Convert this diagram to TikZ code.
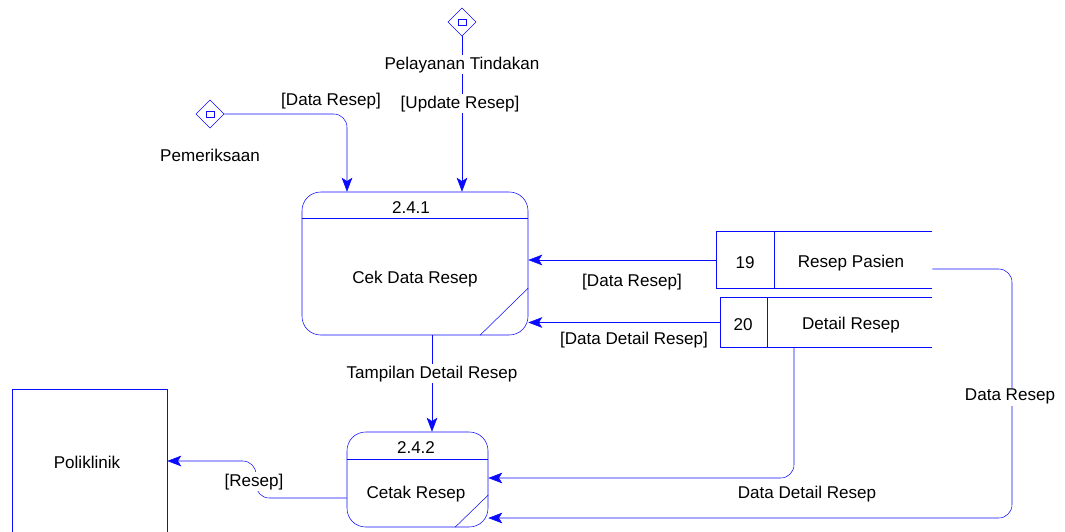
\documentclass[tikz,border=0pt]{standalone}
\usepackage{fontspec}
\setmainfont{Liberation Sans}
\usepackage{tikz}
\usetikzlibrary{shapes.geometric,arrows.meta}
\definecolor{dfdblue}{RGB}{10,10,255}
\tikzset{x=0.75pt,y=-0.75pt,line width=0.9pt,
  every node/.style={font=\fontsize{12.8}{15}\selectfont,text=black},
  flow/.style={draw=dfdblue,-{Stealth[length=10.5pt,width=8pt,inset=2.5pt]},rounded corners=10pt},
  proc/.style={draw=dfdblue,rounded corners=14pt,inner sep=0pt},
  store/.style={inner sep=0pt},
  ext/.style={draw=dfdblue,inner sep=0pt},
  conn/.style={diamond,draw=dfdblue,inner sep=0pt,minimum width=21pt,minimum height=21pt},
  txt/.style={yshift=-1.2pt},
  lbl/.style={txt,fill=white,inner sep=1pt}}

\begin{document}
\begin{tikzpicture}
    \clip (0,0) rectangle (1065,532);
    % processes
    \node[proc,minimum width=169.5pt,minimum height=107.25pt] (p1) at (415,263.5) {};
    \draw[dfdblue] (p1.west |- 0,218) -- (p1.east |- 0,218);
    \draw[dfdblue] (p1.south -| 480,0) -- (p1.east |- 0,288);
    \node[txt] at (411,206) {2.4.1};
    \node[txt] at (415,277) {Cek Data Resep};
    \node[proc,minimum width=105.75pt,minimum height=71.25pt] (p2) at (417.5,479.5) {};
    \draw[dfdblue] (p2.west |- 0,459) -- (p2.east |- 0,459);
    \draw[dfdblue] (p2.south -| 455,0) -- (p2.east |- 0,495);
    \node[txt] at (416,446) {2.4.2};
    \node[txt] at (416,492) {Cetak Resep};
    % data stores
    \node[store,minimum width=161.25pt,minimum height=42pt] (s19) at (824.5,260) {};
    \draw[dfdblue] (s19.north east) -- (s19.north west) -- (s19.south west) -- (s19.south east);
    \draw[dfdblue] (s19.north -| 774,0) -- (s19.south -| 774,0);
    \node[txt] at (745,261) {19};
    \node[txt] at (851,261) {Resep Pasien};
    \node[store,minimum width=158.25pt,minimum height=36.75pt] (s20) at (826.5,322.5) {};
    \draw[dfdblue] (s20.north east) -- (s20.north west) -- (s20.south west) -- (s20.south east);
    \draw[dfdblue] (s20.north -| 767,0) -- (s20.south -| 767,0);
    \node[txt] at (743,323) {20};
    \node[txt] at (851,323) {Detail Resep};
    % external entity
    \node[ext,minimum width=116.25pt,minimum height=128.25pt] (poli) at (89.5,474.5) {};
    \node[txt] at (87,461) {Poliklinik};
    % connectors
    \node[conn] (d1) at (210,114) {};
    \node[draw=dfdblue,line width=0.6pt,minimum width=6pt,minimum height=4.5pt,inner sep=0pt] at (d1) {};
    \node[txt] at (210,154) {Pemeriksaan};
    \node[conn] (d2) at (462,22) {};
    \node[draw=dfdblue,line width=0.6pt,minimum width=6pt,minimum height=4.5pt,inner sep=0pt] at (d2) {};
    % flows
    \draw[flow] (d1.east) -| (p1.north -| 347,0);
    \draw[flow] (d2.south) -- (p1.north -| d2.south);
    \draw[flow] (s19.west) -- (s19.west -| p1.east);
    \draw[flow] (s20.west) -- (s20.west -| p1.east);
    \draw[flow] (p1.south -| 432,0) -- (p2.north -| 432,0);
    \draw[flow] (p2.west |- 0,498) -- (256,498) -- (256,461) -- (poli.east |- 0,461);
    \draw[flow] (s20.south -| 794,0) -- (794,478) -- (p2.east |- 0,478);
    \draw[flow] (s19.east |- 0,269) -- (1012,269) -- (1012,518) -- (p2.east |- 0,518);
    % flow labels
    \node[lbl] at (331,99) {[Data Resep]};
    \node[lbl] at (462,63) {Pelayanan Tindakan};
    \node[lbl] at (460,102) {[Update Resep]};
    \node[lbl] at (632,280) {[Data Resep]};
    \node[lbl] at (634,338) {[Data Detail Resep]};
    \node[lbl] at (432,372) {Tampilan Detail Resep};
    \node[lbl] at (254,480) {[Resep]};
    \node[lbl] at (807,492) {Data Detail Resep};
    \node[lbl] at (1010,395) {Data Resep};
\end{tikzpicture}
\end{document}
